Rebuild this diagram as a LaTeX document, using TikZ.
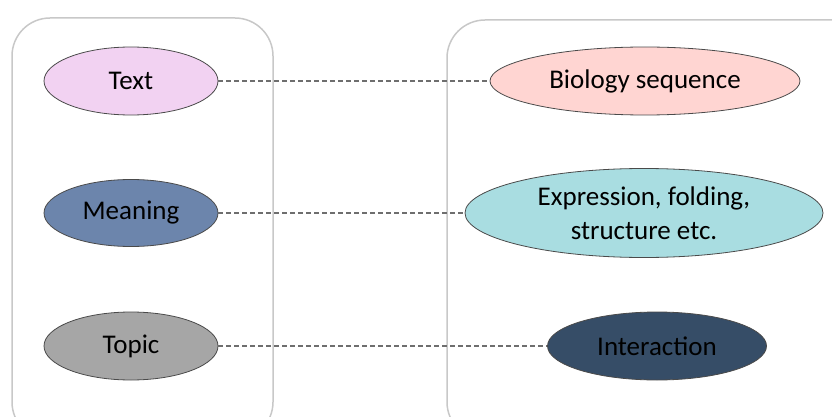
\documentclass[tikz,border=0pt]{standalone}
\usepackage{fontspec}
\setmainfont{Carlito}
\usetikzlibrary{shapes.geometric}
\definecolor{boxline}{HTML}{C8C8C8}
\definecolor{ellline}{HTML}{4A4A4A}
\definecolor{dashline}{HTML}{6E6E6E}
\definecolor{cText}{HTML}{F2D2F2}
\definecolor{cMeaning}{HTML}{6C85AC}
\definecolor{cTopic}{HTML}{A6A6A6}
\definecolor{cBio}{HTML}{FFD5D2}
\definecolor{cExpr}{HTML}{A9DDE1}
\definecolor{cInter}{HTML}{364D67}
\tikzset{
  x=1pt, y=-1pt,
  groupbox/.style={draw=boxline, line width=1.5pt, rounded corners=38pt},
  ell/.style={ellipse, draw=ellline, line width=0.8pt, inner sep=0pt, align=center,
    font=\fontsize{27}{34}\selectfont, text=black},
  link/.style={draw=dashline, dashed, dash pattern=on 5pt off 3pt, line width=1.3pt}
}
\begin{document}
\begin{tikzpicture}
\useasboundingbox (0,0) rectangle (832,417);
\draw[groupbox] (12,18) rectangle (273,440);
\draw[groupbox] (447,20) rectangle (880,440);
\node[ell, fill=cText, minimum width=174pt, minimum height=68pt] (text) at (131,81) {Text};
\node[ell, fill=cMeaning, minimum width=174pt, minimum height=67pt] (meaning) at (131,213) {Meaning};
\node[ell, fill=cTopic, minimum width=174pt, minimum height=68pt] (topic) at (131,346) {Topic};
\node[ell, fill=cBio, minimum width=310pt, minimum height=68pt] (bio) at (645,81) {Biology sequence};
\node[ell, fill=cExpr, minimum width=358pt, minimum height=89pt] (expr) at (644,213) {Expression, folding,\\structure etc.};
\node[ell, fill=cInter, minimum width=219pt, minimum height=68pt] (inter) at (657,346) {Interaction};
\draw[link] (text.east) -- (bio.west);
\draw[link] (meaning.east) -- (expr.west);
\draw[link] (topic.east) -- (inter.west);
\end{tikzpicture}
\end{document}
